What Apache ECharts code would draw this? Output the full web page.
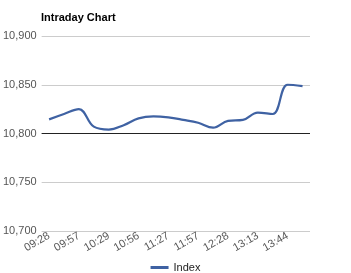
<!DOCTYPE html>
<html><head><meta charset="utf-8">
<script src="https://cdn.jsdelivr.net/npm/echarts@6/dist/echarts.min.js"></script>
<style>html,body{margin:0;padding:0;background:#fff}#c{width:351px;height:273px}</style>
</head><body><div id="c"></div>
<script>
const categories = ['09:28','09:43','09:57','10:13','10:29','10:42','10:56','11:12','11:27','11:42','11:57','12:12','12:28','12:50','13:13','13:28','13:44','13:59'];
const indexValues = [10814.5,10820,10825,10807,10804,10808.5,10815.5,10817.5,10816.5,10814,10811,10806,10813,10814,10821.5,10820,10850,10848.5];
const yTicks = {min:10700,max:10900,interval:50};
const chart = echarts.init(document.getElementById('c'));
chart.setOption({
  animation:false,
  title:{text:'Intraday Chart',left:36,top:7,textStyle:{fontFamily:'Liberation Sans',fontSize:11,fontWeight:'bold',color:'#000'}},
  grid:{left:40,right:41,top:36,bottom:42},
  legend:{top:257,left:'center',data:['Index'],icon:'rect',itemWidth:18,itemHeight:3,itemGap:6,
    textStyle:{fontFamily:'Liberation Sans',fontSize:11,color:'#222'}},
  xAxis:{type:'category',data:categories,boundaryGap:true,
    axisLine:{show:false},axisTick:{show:false},
    axisLabel:{interval:1,rotate:30,fontFamily:'Liberation Sans',fontSize:11,color:'#555',margin:4}},
  yAxis:{type:'value',min:yTicks.min,max:yTicks.max,interval:yTicks.interval,
    axisLine:{show:false},axisTick:{show:false},
    splitLine:{lineStyle:{color:'#ccc',width:1}},
    axisLabel:{fontFamily:'Liberation Sans',fontSize:11,color:'#555',margin:5,
      formatter:v=>v.toLocaleString('en-US')}},
  series:[{name:'Index',type:'line',data:indexValues,smooth:0.4,showSymbol:false,
    lineStyle:{color:'#3f62a3',width:2.2},itemStyle:{color:'#3f62a3'},
    markLine:{silent:true,symbol:'none',label:{show:false},lineStyle:{color:'#222',type:'solid',width:1},data:[{yAxis:10800}]}}]
});
</script></body></html>
